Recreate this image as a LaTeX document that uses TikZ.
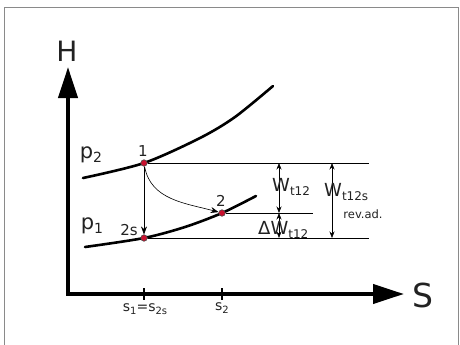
\documentclass[tikz,border=0pt]{standalone}
\usepackage{fontspec}
\setmainfont{DejaVu Sans}
\usepackage{tikz}
\usetikzlibrary{arrows.meta,positioning}
\definecolor{FrameGray}{HTML}{8A8A8A}
\definecolor{StateRed}{HTML}{C8102E}
\definecolor{TextGray}{HTML}{222222}
\newcommand{\sub}[2]{\raisebox{-0.35ex}{\fontsize{#1}{#1}\selectfont #2}}

\begin{document}
\begin{tikzpicture}[x=1pt,y=-1pt,>={Stealth[length=8pt,width=6pt]},
    state/.style={circle,fill=StateRed,draw=black!70,line width=0.6pt,
      inner sep=0pt,minimum size=6.5pt},
    isobar/.style={line width=2.6pt,line cap=round},
    level/.style={line width=0.6pt},
    dim/.style={<->,line width=0.6pt,>={Stealth[length=6.5pt,width=5pt]}},
    lbl/.style={text=TextGray,inner sep=0pt}]
    \useasboundingbox (0,0) rectangle (460,345);

    % Frame.
    \draw[FrameGray,line width=0.8pt] (4,346) -- (4,7) -- (458,7) -- (458,346);

    % Axes.
    \coordinate (origin) at (68,294);
    \coordinate (htip) at (68,67);
    \coordinate (stip) at (404,294);
    \draw[line width=4pt,-{Triangle[length=31pt,width=19pt]}] (origin) -- (htip);
    \draw[line width=4pt,-{Triangle[length=31pt,width=19pt]}] ([xshift=-2pt]origin) -- (stip);
    \node[lbl,font=\fontsize{28}{28}\selectfont] (hlab) at (67,51) {H};
    \node[lbl,font=\fontsize{33}{33}\selectfont] (slab) at (423,295) {S};

    % Isobars.
    \draw[isobar] plot[smooth] coordinates {(83,178) (144,163) (200,138)
      (235,117) (273,86)};
    \draw[isobar] plot[smooth] coordinates {(85,247) (144,238) (185,227)
      (222,213) (256,196)};
    \node[lbl,font=\fontsize{21}{21}\selectfont] (ptwo) at (91,155) {p\sub{14}{2}};
    \node[lbl,font=\fontsize{21}{21}\selectfont] (pone) at (92,226) {p\sub{14}{1}};

    % States.
    \node[state] (s1) at (144,163) {};
    \node[state] (s2s) at (144,238) {};
    \node[state] (s2) at (222,213) {};
    \node[lbl,font=\fontsize{15}{15}\selectfont] (l1) at (143,151) {1};
    \node[lbl,font=\fontsize{15}{15}\selectfont] (l2) at (221,201) {2};
    \node[lbl,font=\fontsize{15}{15}\selectfont] (l2s) at (129,230) {2s};

    % Expansions.
    \draw[->,level] (s1) -- (s2s);
    \draw[->,level] (s1) to[out=-80,in=165] (s2);

    % Enthalpy levels.
    \coordinate (top) at (369,163);
    \coordinate (mid) at (313,213);
    \coordinate (bot) at (369,238);
    \draw[level] (s1) -- (top);
    \draw[level] (s2) -- (mid);
    \draw[level] (s2s) -- (bot);

    % Work arrows.
    \coordinate (wa) at (279,163);
    \coordinate (wb) at (279,213);
    \coordinate (wc) at (279,238);
    \coordinate (wd) at (332,163);
    \coordinate (we) at (332,238);
    \draw[dim] (wa) -- (wb);
    \draw[dim] (wb) -- (wc);
    \draw[dim] (wd) -- (we);
    \node[lbl,font=\fontsize{18}{18}\selectfont,anchor=west] (wt) at (272,187)
      {W\sub{12}{t12}};
    \node[lbl,font=\fontsize{18}{18}\selectfont,anchor=west] (dw) at (258,230)
      {ΔW\sub{12}{t12}};
    \node[lbl,font=\fontsize{18}{18}\selectfont,anchor=west] (ws) at (324,192)
      {W\sub{12}{t12s}};
    \node[lbl,font=\fontsize{11.5}{11.5}\selectfont] (rev) at (363,214) {rev.ad.};

    % Entropy ticks.
    \coordinate (t1) at (144,288);
    \coordinate (t2) at (222,288);
    \draw[line width=2pt] (t1) -- ++(0,12);
    \draw[line width=2pt] (t2) -- ++(0,12);
    \node[lbl,font=\fontsize{14}{14}\selectfont] (sone) at (145,309)
      {s\sub{10}{1}=s\sub{10}{2s}};
    \node[lbl,font=\fontsize{14}{14}\selectfont] (stwo) at (222,308) {s\sub{10}{2}};
  \end{tikzpicture}
\end{document}
